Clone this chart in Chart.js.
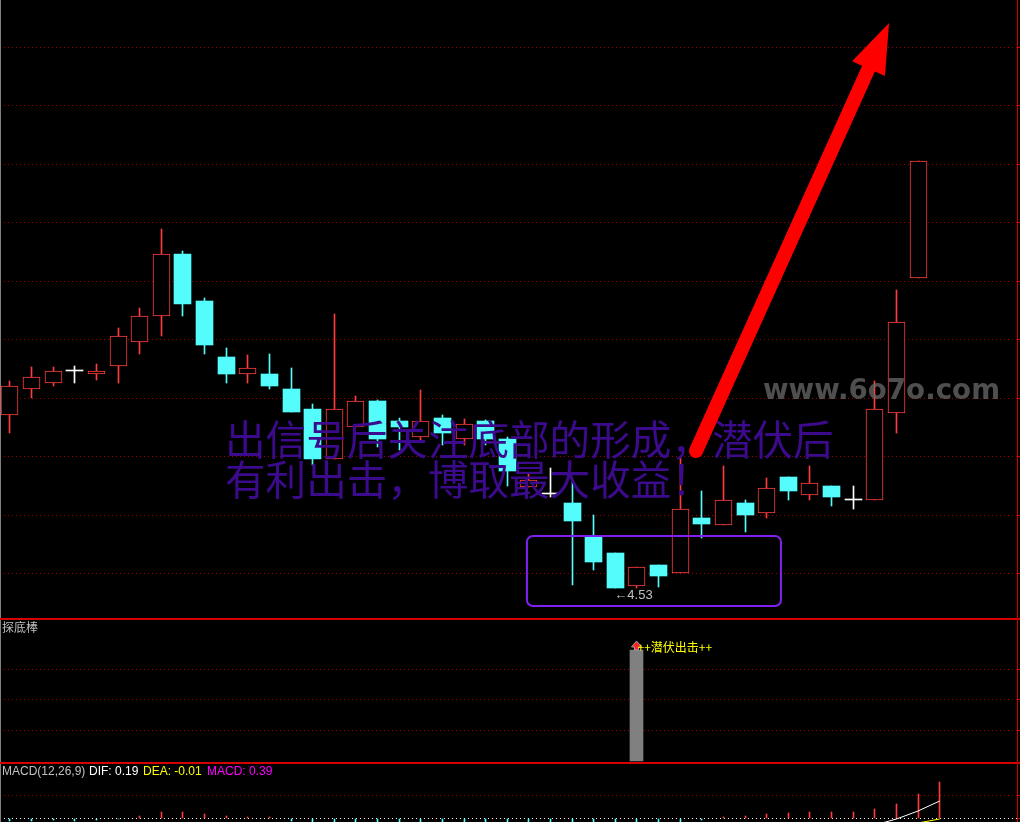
<!DOCTYPE html>
<html>
<head>
<meta charset="utf-8">
<script src="https://cdn.jsdelivr.net/npm/chart.js@4.4.0/dist/chart.umd.min.js"></script>
<style>
html, body { margin: 0; padding: 0; background: #000; overflow: hidden; }
canvas { position: absolute; left: 0; }
</style>
</head>
<body>
<canvas id="main" width="1020" height="618" style="top:0px"></canvas>
<canvas id="sub" width="1020" height="144" style="top:618px"></canvas>
<canvas id="macd" width="1020" height="60" style="top:762px"></canvas>
<script>
// daily candles, index 0..42
var opens  = [5.268, 5.379, 5.405, 5.456, 5.443, 5.477, 5.580, 5.691, 5.957, 5.756, 5.517, 5.443, 5.445, 5.380, 5.295,
              5.080, 5.217, 5.329, 5.244, 5.177, 5.258, 5.165, 5.244, 5.167, 4.963, 4.932, 4.893, 4.749, 4.678, 4.540,
              4.628, 4.593, 4.829, 4.801, 4.893, 4.852, 5.004, 4.929, 4.966, 4.905, 4.905, 5.279, 5.854];
var closes = [5.393, 5.430, 5.456, 5.456, 5.456, 5.606, 5.691, 5.957, 5.745, 5.570, 5.446, 5.469, 5.395, 5.283, 5.081,
              5.294, 5.328, 5.168, 5.218, 5.242, 5.194, 5.231, 5.168, 5.031, 4.992, 4.932, 4.818, 4.642, 4.530, 4.618,
              4.581, 4.868, 4.805, 4.905, 4.843, 4.956, 4.946, 4.977, 4.920, 4.905, 5.294, 5.665, 6.354];
var highs  = [5.415, 5.474, 5.474, 5.479, 5.487, 5.641, 5.727, 6.064, 5.970, 5.769, 5.556, 5.526, 5.530, 5.470, 5.316,
              5.701, 5.352, 5.335, 5.258, 5.376, 5.270, 5.251, 5.250, 5.175, 5.021, 5.042, 4.992, 4.841, 4.678, 4.618,
              4.628, 5.089, 4.945, 5.050, 4.905, 4.999, 5.004, 5.051, 4.966, 4.966, 5.415, 5.804, 6.354];
var lows   = [5.194, 5.343, 5.395, 5.407, 5.420, 5.407, 5.531, 5.608, 5.694, 5.531, 5.407, 5.407, 5.382, 5.283, 5.056,
              5.080, 5.217, 5.134, 5.120, 5.159, 5.141, 5.141, 5.141, 4.967, 4.963, 4.920, 4.543, 4.608, 4.530, 4.530,
              4.535, 4.593, 4.745, 4.801, 4.771, 4.830, 4.906, 4.906, 4.880, 4.868, 4.905, 5.194, 5.854];
var priceGrid = [4.594, 4.844, 5.094, 5.344, 5.594, 5.844, 6.094, 6.344, 6.594, 6.844];
var lowIndex = 28;
var lowLabel = '\u2190' + '4.53';

// 探底棒 panel
var signalIndex = [29];
var signalValue = [3.61];
var signalGrid = [1, 2, 3];
var signalText = '++潜伏出击++';

// MACD(12,26,9) panel, index 0..43
var macdHist = [-0.03, -0.03, -0.02, -0.03, -0.02, -0.01, 0.02, 0.07, 0.07, 0.05, 0.03, 0.015, 0.01, -0.03, -0.05,
                -0.05, -0.05, -0.05, -0.05, -0.05, -0.05, -0.05, -0.05, -0.05, -0.05, -0.05, -0.05, -0.05, -0.05, -0.05,
                -0.05, -0.05, -0.02, 0.01, 0.025, 0.045, 0.06, 0.07, 0.07, 0.07, 0.10, 0.16, 0.26, 0.39];
var difLine = [-0.165, -0.165, -0.15, -0.155, -0.14, -0.135, -0.11, -0.075, -0.065, -0.065, -0.075, -0.08, -0.085, -0.115, -0.135,
               -0.145, -0.155, -0.165, -0.175, -0.175, -0.185, -0.185, -0.195, -0.205, -0.215, -0.225, -0.235, -0.245, -0.255, -0.265,
               -0.265, -0.275, -0.26, -0.235, -0.218, -0.198, -0.18, -0.155, -0.135, -0.115, -0.07, -0.01, 0.08, 0.19];
var deaLine = [-0.15, -0.15, -0.14, -0.14, -0.13, -0.13, -0.12, -0.11, -0.10, -0.09, -0.09, -0.09, -0.09, -0.10, -0.11,
               -0.12, -0.13, -0.14, -0.15, -0.15, -0.16, -0.16, -0.17, -0.18, -0.19, -0.20, -0.21, -0.22, -0.23, -0.24,
               -0.24, -0.25, -0.25, -0.24, -0.23, -0.22, -0.21, -0.19, -0.17, -0.15, -0.12, -0.09, -0.05, -0.01];
var macdGrid = [0, 0.25];

// annotations (in index / price units)
var arrowFrom = { x: 31.73, y: 5.115 };
var arrowTo = { x: 40.66, y: 6.944 };
var boxFrom = { x: 23.91, y: 4.7535 };
var boxTo = { x: 35.66, y: 4.453 };
var noteAt = { x: 9.944, y: 5.1625 };
var noteLines = ['出信号后关注底部的形成，潜伏后', '有利出击，博取最大收益！'];
var watermark = 'www.6o7o.com';

var RED = '#ff3c3c', CYAN = '#54fcfc', WHITE = '#ffffff';
var GRID = '#a00000', EDGE = '#d40000';
var X_MIN = -0.4625, X_MAX = 46.577;

function candleColor(i) {
    if (closes[i] > opens[i]) return RED;
    if (closes[i] < opens[i]) return CYAN;
    return WHITE;
}

var idx = opens.map(function (v, i) { return i; });

// keep bar edges on whole pixels so 1px outlines stay sharp
var snapBars = {
    id: 'snapBars',
    beforeDatasetsDraw: function (chart) {
        chart.data.datasets.forEach(function (ds, di) {
            var meta = chart.getDatasetMeta(di);
            if (meta.type !== 'bar') return;
            meta.data.forEach(function (el) {
                var w = Math.round(el.width);
                el.x = (w % 2) ? Math.floor(el.x) + 0.5 : Math.round(el.x);
                el.y = Math.round(el.y);
                el.base = Math.round(el.base);
            });
        });
    }
};

function frame(topLine) {
    return {
        id: 'frame',
        afterDraw: function (chart) {
            var ctx = chart.ctx, a = chart.chartArea;
            ctx.save();
            ctx.fillStyle = '#808080';
            ctx.fillRect(0, 0, 1, chart.height);
            ctx.fillStyle = EDGE;
            ctx.fillRect(Math.round(a.right), 0, 1, chart.height);
            if (topLine) ctx.fillRect(0, 0, chart.width, 2);
            ctx.restore();
        }
    };
}

function baseOptions(yMin, yMax, grid, padTop) {
    return {
        responsive: false,
        animation: false,
        layout: { padding: { top: padTop, left: 0, right: 0, bottom: 0 } },
        plugins: { legend: { display: false }, tooltip: { enabled: false } },
        scales: {
            x: { type: 'linear', min: X_MIN, max: X_MAX, display: false, offset: false },
            y: {
                position: 'right',
                min: yMin,
                max: yMax,
                alignToPixels: true,
                afterBuildTicks: function (s) { s.ticks = grid.map(function (v) { return { value: v }; }); },
                ticks: { display: false },
                grid: {
                    color: function (c) { return c.tick && c.tick.value === 0 ? '#ffffff' : GRID; },
                    tickColor: EDGE,
                    tickLength: 3
                },
                border: { display: false, dash: [1, 3] }
            }
        }
    };
}

// ---- main candle panel ----
var mainDecor = {
    id: 'mainDecor',
    afterDatasetsDraw: function (chart) {
        var ctx = chart.ctx, a = chart.chartArea, x = chart.scales.x, y = chart.scales.y;
        ctx.save();

        // site watermark
        ctx.save();
        ctx.font = 'bold 29px "DejaVu Sans"';
        var w = ctx.measureText(watermark).width;
        ctx.translate(a.right - 254, 399);
        ctx.scale(237 / w, 1);
        ctx.fillStyle = 'rgba(110,110,110,0.72)';
        ctx.textBaseline = 'alphabetic';
        ctx.fillText(watermark, 0, 0);
        ctx.restore();

        // low price marker
        ctx.font = '13px "Liberation Sans"';
        ctx.fillStyle = '#c0c0c0';
        ctx.textBaseline = 'middle';
        ctx.fillText(lowLabel, x.getPixelForValue(lowIndex) - 1, y.getPixelForValue(lows[lowIndex]) + 7);

        // overlay note
        ctx.font = '40.6px "Noto Sans CJK SC"';
        ctx.fillStyle = '#3c0a8c';
        ctx.textBaseline = 'middle';
        var nx = x.getPixelForValue(noteAt.x), ny = y.getPixelForValue(noteAt.y);
        noteLines.forEach(function (t, k) { ctx.fillText(t, nx, ny + k * 40); });

        // rounded box
        var bx0 = x.getPixelForValue(boxFrom.x), by0 = y.getPixelForValue(boxFrom.y);
        var bx1 = x.getPixelForValue(boxTo.x), by1 = y.getPixelForValue(boxTo.y);
        ctx.strokeStyle = '#8020f0';
        ctx.lineWidth = 2;
        ctx.beginPath();
        ctx.roundRect(bx0, by0, bx1 - bx0, by1 - by0, 6);
        ctx.stroke();

        // big red arrow
        var sx = x.getPixelForValue(arrowFrom.x), sy = y.getPixelForValue(arrowFrom.y);
        var tx = x.getPixelForValue(arrowTo.x), ty = y.getPixelForValue(arrowTo.y);
        var dx = tx - sx, dy = ty - sy, len = Math.sqrt(dx * dx + dy * dy);
        var ux = dx / len, uy = dy / len, px = -uy, py = ux;
        var hx = tx - ux * 50, hy = ty - uy * 50;
        ctx.strokeStyle = '#ff0000';
        ctx.fillStyle = '#ff0000';
        ctx.lineWidth = 14;
        ctx.lineCap = 'round';
        ctx.beginPath();
        ctx.moveTo(sx, sy);
        ctx.lineTo(hx + ux * 4, hy + uy * 4);
        ctx.stroke();
        ctx.beginPath();
        ctx.moveTo(tx, ty);
        ctx.lineTo(hx + px * 18, hy + py * 18);
        ctx.lineTo(hx - px * 18, hy - py * 18);
        ctx.closePath();
        ctx.fill();
        ctx.restore();
    }
};

new Chart(document.getElementById('main'), {
    type: 'bar',
    data: {
        datasets: [{
            data: idx.map(function (i) { return { x: i, y: [opens[i], closes[i]] }; }),
            barThickness: 17,
            minBarLength: 1,
            grouped: false,
            borderSkipped: false,
            backgroundColor: function (c) { var i = c.dataIndex; return closes[i] > opens[i] ? '#000000' : candleColor(i); },
            borderColor: function (c) { return candleColor(c.dataIndex); },
            borderWidth: function (c) { var i = c.dataIndex; return closes[i] > opens[i] ? 1 : 0; }
        }, {
            data: idx.map(function (i) { return { x: i, y: [lows[i], highs[i]] }; }),
            barThickness: 1,
            grouped: false,
            borderSkipped: false,
            borderWidth: 0,
            backgroundColor: function (c) { return candleColor(c.dataIndex); }
        }]
    },
    options: baseOptions(4.4018, 7.0428, priceGrid, 0),
    plugins: [snapBars, mainDecor, frame(false)]
});

// ---- 探底棒 panel ----
var subDecor = {
    id: 'subDecor',
    afterDatasetsDraw: function (chart) {
        var ctx = chart.ctx, x = chart.scales.x, y = chart.scales.y;
        ctx.save();
        ctx.font = '12px "Noto Sans CJK SC"';
        ctx.fillStyle = '#c0c0c0';
        ctx.textBaseline = 'top';
        ctx.fillText('探底棒', 2, 3);
        signalIndex.forEach(function (si, k) {
            var px = Math.floor(x.getPixelForValue(si)) + 0.5, py = Math.round(y.getPixelForValue(signalValue[k]));
            ctx.fillStyle = '#ff2020';
            ctx.strokeStyle = '#a0a0a0';
            ctx.lineWidth = 1;
            ctx.beginPath();
            ctx.moveTo(px, py - 9);
            ctx.lineTo(px + 5, py - 3);
            ctx.lineTo(px + 2, py - 3);
            ctx.lineTo(px + 2, py);
            ctx.lineTo(px - 2, py);
            ctx.lineTo(px - 2, py - 3);
            ctx.lineTo(px - 5, py - 3);
            ctx.closePath();
            ctx.fill();
            ctx.stroke();
            ctx.font = '12px "Noto Sans CJK SC"';
            ctx.fillStyle = '#ffff00';
            ctx.textBaseline = 'middle';
            ctx.fillText(signalText, px + 1, py - 3);
        });
        ctx.restore();
    }
};

new Chart(document.getElementById('sub'), {
    type: 'bar',
    data: {
        datasets: [{
            data: signalIndex.map(function (si, k) { return { x: si, y: signalValue[k] }; }),
            barThickness: 13,
            grouped: false,
            backgroundColor: '#808080'
        }]
    },
    options: baseOptions(-0.049, 4.59, signalGrid, 2),
    plugins: [snapBars, subDecor, frame(true)]
});

// ---- MACD panel ----
var macdDecor = {
    id: 'macdDecor',
    afterDraw: function (chart) {
        var ctx = chart.ctx;
        ctx.save();
        ctx.font = '12px "Liberation Sans"';
        ctx.textBaseline = 'middle';
        ctx.fillStyle = '#c0c0c0';
        ctx.fillText('MACD(12,26,9)', 2, 10);
        ctx.fillStyle = '#ffffff';
        ctx.fillText('DIF: ' + difLine[difLine.length - 1].toFixed(2), 89, 10);
        ctx.fillStyle = '#ffff00';
        ctx.fillText('DEA: ' + deaLine[deaLine.length - 1].toFixed(2), 143, 10);
        ctx.fillStyle = '#ff00ff';
        ctx.fillText('MACD: ' + macdHist[macdHist.length - 1].toFixed(2), 207, 10);
        ctx.restore();
    }
};

new Chart(document.getElementById('macd'), {
    type: 'bar',
    data: {
        datasets: [{
            type: 'line',
            order: 0,
            data: difLine.map(function (v, i) { return { x: i, y: v }; }),
            borderColor: '#ffffff',
            borderWidth: 1,
            pointRadius: 0
        }, {
            type: 'line',
            order: 0,
            data: deaLine.map(function (v, i) { return { x: i, y: v }; }),
            borderColor: '#ffff00',
            borderWidth: 1,
            pointRadius: 0
        }, {
            order: 1,
            data: macdHist.map(function (v, i) { return { x: i, y: v }; }),
            barThickness: 1,
            grouped: false,
            backgroundColor: function (c) { return macdHist[c.dataIndex] >= 0 ? RED : CYAN; }
        }]
    },
    options: baseOptions(-0.040, 0.590, macdGrid, 2),
    plugins: [snapBars, macdDecor, frame(true)]
});
</script>
</body>
</html>
